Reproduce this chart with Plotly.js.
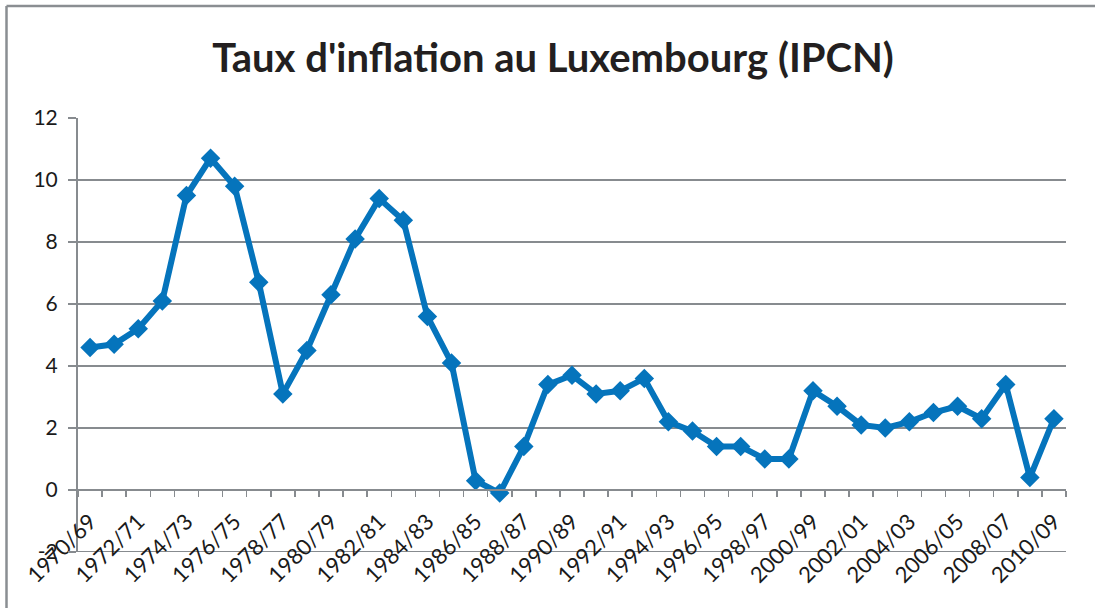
<!DOCTYPE html>
<html>
<head>
<meta charset="utf-8">
<script src="https://cdn.plot.ly/plotly-3.0.1.min.js"></script>
<style>
  html, body { margin: 0; padding: 0; background: #ffffff; }
  #chart { width: 1095px; height: 608px; }
</style>
</head>
<body>
<div id="chart"></div>
<script>
const chartTitle = "Taux d'inflation au Luxembourg (IPCN)";

const categories = [
  "1970/69","1971/70","1972/71","1973/72","1974/73","1975/74","1976/75","1977/76",
  "1978/77","1979/78","1980/79","1981/80","1982/81","1983/82","1984/83","1985/84",
  "1986/85","1987/86","1988/87","1989/88","1990/89","1991/90","1992/91","1993/92",
  "1994/93","1995/94","1996/95","1997/96","1998/97","1999/98","2000/99","2001/00",
  "2002/01","2003/02","2004/03","2005/04","2006/05","2007/06","2008/07","2009/08",
  "2010/09"
];

const inflation = [
  4.6, 4.7, 5.2, 6.1, 9.5, 10.7, 9.8, 6.7,
  3.1, 4.5, 6.3, 8.1, 9.4, 8.7, 5.6, 4.1,
  0.3, -0.1, 1.4, 3.4, 3.7, 3.1, 3.2, 3.6,
  2.2, 1.9, 1.4, 1.4, 1.0, 1.0, 3.2, 2.7,
  2.1, 2.0, 2.2, 2.5, 2.7, 2.3, 3.4, 0.4,
  2.3
];

const shownTickLabels = [
  "1970/69","1972/71","1974/73","1976/75","1978/77","1980/79","1982/81","1984/83",
  "1986/85","1988/87","1990/89","1992/91","1994/93","1996/95","1998/97","2000/99",
  "2002/01","2004/03","2006/05","2008/07","2010/09"
];

const yTickValues = [-2, 0, 2, 4, 6, 8, 10, 12];

const tickText = categories.map(c => shownTickLabels.includes(c) ? c : "");

const axisGray = "#878b8f";
const lineBlue = "#0574BC";
const yLabelFont = { family: "Lato, 'Open Sans', sans-serif", size: 21, color: "#1a1a1a" };
const xLabelFont = { family: "Lato, 'Open Sans', sans-serif", size: 22, color: "#1a1a1a" };

const trace = {
  type: "scatter",
  mode: "lines+markers",
  x: categories,
  y: inflation,
  line: { color: lineBlue, width: 6 },
  marker: { symbol: "diamond", size: 15, color: lineBlue },
  cliponaxis: false,
  hoverinfo: "x+y"
};

const yMin = yTickValues[0];
const yMax = yTickValues[yTickValues.length - 1];

const layout = {
  width: 1095,
  height: 608,
  margin: { l: 78, r: 29, t: 118, b: 56, pad: 0 },
  paper_bgcolor: "#ffffff",
  plot_bgcolor: "#ffffff",
  showlegend: false,
  title: {
    text: "<b>" + chartTitle + "</b>",
    font: { family: "Lato, 'Open Sans', sans-serif", size: 40, color: "#231f20" },
    x: 0.505,
    xanchor: "center",
    y: 0.905,
    yanchor: "middle"
  },
  xaxis: {
    type: "category",
    categoryorder: "array",
    categoryarray: categories,
    range: [-0.5, categories.length - 0.5],
    anchor: "free",
    position: (0 - yMin) / (yMax - yMin),
    showline: true,
    linecolor: axisGray,
    linewidth: 2,
    showgrid: false,
    zeroline: false,
    ticks: "outside",
    tickson: "boundaries",
    ticklen: 6,
    tickwidth: 1.5,
    tickcolor: axisGray,
    tickmode: "array",
    tickvals: categories,
    ticktext: tickText,
    tickangle: -45,
    tickfont: xLabelFont,
    ticklabelstandoff: 9,
    fixedrange: true
  },
  yaxis: {
    range: [yMin, yMax],
    tickmode: "array",
    tickvals: yTickValues,
    ticktext: yTickValues.map(String),
    showline: true,
    linecolor: axisGray,
    linewidth: 2,
    showgrid: true,
    gridcolor: axisGray,
    gridwidth: 2,
    zeroline: false,
    ticks: "outside",
    ticklen: 8,
    tickwidth: 2,
    tickcolor: axisGray,
    tickfont: yLabelFont,
    ticklabelstandoff: 6,
    fixedrange: true
  },
  shapes: [
    { type: "line", xref: "paper", yref: "y", x0: 0, x1: 1, y0: yMin, y1: yMin, layer: "below",
      line: { color: axisGray, width: 2 } },
    { type: "line", xref: "paper", yref: "paper", x0: (6.5 - 78) / 988, x1: (6.5 - 78) / 988, y0: -0.2, y1: (552 - 6) / 434,
      line: { color: "#8a8e92", width: 2.5 } },
    { type: "line", xref: "paper", yref: "paper", x0: (6.5 - 78) / 988, x1: 1.1, y0: (552 - 6) / 434, y1: (552 - 6) / 434,
      line: { color: "#8a8e92", width: 2.5 } }
  ]
};

Plotly.newPlot("chart", [trace], layout, { displayModeBar: false, staticPlot: true });
</script>
</body>
</html>
